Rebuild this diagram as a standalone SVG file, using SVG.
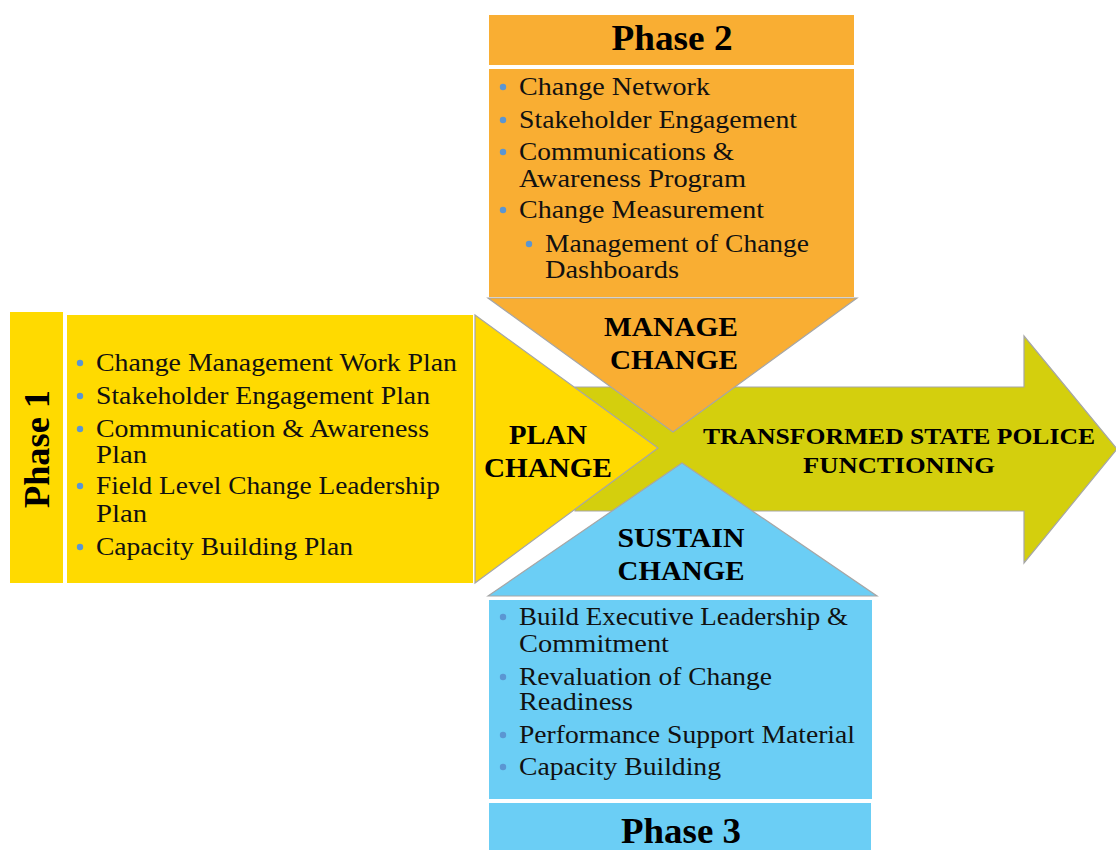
<svg xmlns="http://www.w3.org/2000/svg" width="1116" height="850" viewBox="0 0 1116 850">
  <style>
    .item { font-family: "Liberation Serif", "Times New Roman", serif; font-size: 25px; fill: #111; }
    .title { font-family: "Liberation Serif", "Times New Roman", serif; font-size: 36px; font-weight: bold; fill: #000; }
    .label { font-family: "Liberation Serif", "Times New Roman", serif; font-size: 27px; font-weight: bold; fill: #000; text-anchor: middle; }
    .arrowlabel { font-family: "Liberation Serif", "Times New Roman", serif; font-size: 23px; font-weight: bold; fill: #000; }
    .dot { fill: #5B96D2; }
    .edge { stroke: #A6A6A6; stroke-width: 1.2; }
  </style>
  <rect width="1116" height="850" fill="#FFFFFF"/>

  <!-- central arrow -->
  <g id="connectors">
    <polygon class="edge" fill="#D4CF0D" points="575,387 1024,387 1024,336 1117,449 1024,563 1024,511 575,511"/>
    <text class="arrowlabel" x="703" y="444" textLength="392" lengthAdjust="spacingAndGlyphs">TRANSFORMED STATE POLICE</text>
    <text class="arrowlabel" x="803" y="473" textLength="192" lengthAdjust="spacingAndGlyphs">FUNCTIONING</text>
  </g>

  <!-- Phase 1 -->
  <g id="phase1">
    <rect x="10" y="312" width="53" height="271" fill="#FFDA00"/>
    <text class="title" transform="translate(49,449) rotate(-90)" text-anchor="middle" textLength="118" lengthAdjust="spacingAndGlyphs">Phase 1</text>
    <rect x="67" y="315" width="406" height="268" fill="#FFDA00"/>
    <circle class="dot" cx="80" cy="363" r="3.2"/>
    <text class="item" x="96" y="371" textLength="361" lengthAdjust="spacingAndGlyphs">Change Management Work Plan</text>
    <circle class="dot" cx="80" cy="396" r="3.2"/>
    <text class="item" x="96" y="404" textLength="334" lengthAdjust="spacingAndGlyphs">Stakeholder Engagement Plan</text>
    <circle class="dot" cx="80" cy="429" r="3.2"/>
    <text class="item" x="96" y="437" textLength="333" lengthAdjust="spacingAndGlyphs">Communication &amp; Awareness</text>
    <text class="item" x="96" y="463" textLength="51" lengthAdjust="spacingAndGlyphs">Plan</text>
    <circle class="dot" cx="80" cy="486" r="3.2"/>
    <text class="item" x="96" y="494" textLength="344" lengthAdjust="spacingAndGlyphs">Field Level Change Leadership</text>
    <text class="item" x="96" y="522" textLength="51" lengthAdjust="spacingAndGlyphs">Plan</text>
    <circle class="dot" cx="80" cy="547" r="3.2"/>
    <text class="item" x="96" y="555" textLength="257" lengthAdjust="spacingAndGlyphs">Capacity Building Plan</text>
  </g>

  <!-- Plan change -->
  <g id="plan-change">
    <polygon class="edge" fill="#FFDA00" points="475,315 658,448 475,583"/>
    <text class="label" x="548" y="444" textLength="78" lengthAdjust="spacingAndGlyphs">PLAN</text>
    <text class="label" x="548" y="477" textLength="128" lengthAdjust="spacingAndGlyphs">CHANGE</text>
  </g>

  <!-- Phase 2 -->
  <g id="phase2">
    <rect x="489" y="15" width="365" height="50" fill="#F9AE33"/>
    <text class="title" x="672" y="50" text-anchor="middle" textLength="121" lengthAdjust="spacingAndGlyphs">Phase 2</text>
    <rect x="489" y="69" width="365" height="228" fill="#F9AE33"/>
    <circle class="dot" cx="503" cy="87" r="3.2"/>
    <text class="item" x="519" y="95" textLength="191" lengthAdjust="spacingAndGlyphs">Change Network</text>
    <circle class="dot" cx="503" cy="120" r="3.2"/>
    <text class="item" x="519" y="128" textLength="278" lengthAdjust="spacingAndGlyphs">Stakeholder Engagement</text>
    <circle class="dot" cx="503" cy="152" r="3.2"/>
    <text class="item" x="519" y="160" textLength="215" lengthAdjust="spacingAndGlyphs">Communications &amp;</text>
    <text class="item" x="519" y="187" textLength="227" lengthAdjust="spacingAndGlyphs">Awareness Program</text>
    <circle class="dot" cx="503" cy="210" r="3.2"/>
    <text class="item" x="519" y="218" textLength="245" lengthAdjust="spacingAndGlyphs">Change Measurement</text>
    <circle class="dot" cx="529" cy="244" r="3.2"/>
    <text class="item" x="545" y="252" textLength="264" lengthAdjust="spacingAndGlyphs">Management of Change</text>
    <text class="item" x="545" y="278" textLength="134" lengthAdjust="spacingAndGlyphs">Dashboards</text>
  </g>

  <!-- Manage change -->
  <g id="manage-change">
    <polygon class="edge" fill="#F9AE33" points="488,298 857,298 673,432"/>
    <text class="label" x="671" y="336" textLength="134" lengthAdjust="spacingAndGlyphs">MANAGE</text>
    <text class="label" x="674" y="369" textLength="128" lengthAdjust="spacingAndGlyphs">CHANGE</text>
  </g>

  <!-- Sustain change -->
  <g id="sustain-change">
    <polygon class="edge" fill="#6BCEF5" points="488,596 682,463 877,596"/>
    <text class="label" x="681" y="547" textLength="127" lengthAdjust="spacingAndGlyphs">SUSTAIN</text>
    <text class="label" x="681" y="580" textLength="127" lengthAdjust="spacingAndGlyphs">CHANGE</text>
  </g>

  <!-- Phase 3 -->
  <g id="phase3">
    <rect x="489" y="600" width="383" height="199" fill="#6BCEF5"/>
    <circle class="dot" cx="503" cy="617" r="3.2"/>
    <text class="item" x="519" y="625" textLength="329" lengthAdjust="spacingAndGlyphs">Build Executive Leadership &amp;</text>
    <text class="item" x="519" y="652" textLength="150" lengthAdjust="spacingAndGlyphs">Commitment</text>
    <circle class="dot" cx="503" cy="677" r="3.2"/>
    <text class="item" x="519" y="685" textLength="253" lengthAdjust="spacingAndGlyphs">Revaluation of Change</text>
    <text class="item" x="519" y="710" textLength="114" lengthAdjust="spacingAndGlyphs">Readiness</text>
    <circle class="dot" cx="503" cy="735" r="3.2"/>
    <text class="item" x="519" y="743" textLength="336" lengthAdjust="spacingAndGlyphs">Performance Support Material</text>
    <circle class="dot" cx="503" cy="767" r="3.2"/>
    <text class="item" x="519" y="775" textLength="202" lengthAdjust="spacingAndGlyphs">Capacity Building</text>
    <rect x="489" y="803" width="382" height="47" fill="#6BCEF5"/>
    <text class="title" x="681" y="843" text-anchor="middle" textLength="120" lengthAdjust="spacingAndGlyphs">Phase 3</text>
  </g>
</svg>
